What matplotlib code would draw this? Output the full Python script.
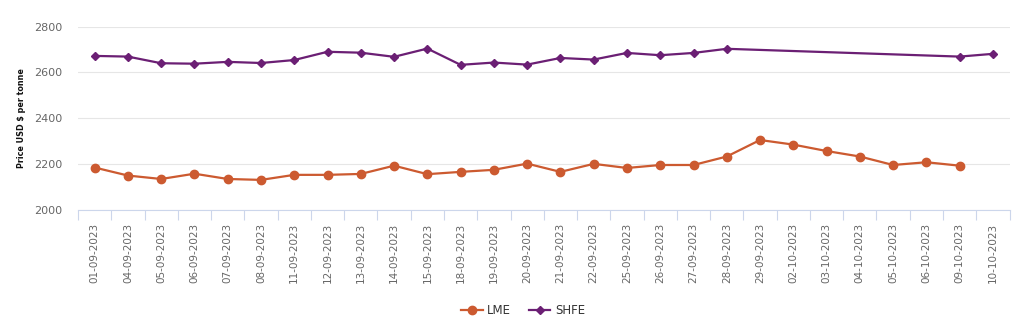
"""
LME vs SHFE price chart
"""

# Libs
import matplotlib.pyplot as plt
import numpy as np

dates = ["01-09-2023", "04-09-2023", "05-09-2023", "06-09-2023", "07-09-2023", "08-09-2023",
         "11-09-2023", "12-09-2023", "13-09-2023", "14-09-2023", "15-09-2023", "18-09-2023",
         "19-09-2023", "20-09-2023", "21-09-2023", "22-09-2023", "25-09-2023", "26-09-2023",
         "27-09-2023", "28-09-2023", "29-09-2023", "02-10-2023", "03-10-2023", "04-10-2023",
         "05-10-2023", "06-10-2023", "09-10-2023", "10-10-2023"]

lme = [2185, 2150, 2135, 2158, 2135, 2131, 2153, 2153, 2157, 2193, 2156, 2166,
       2175, 2202, 2166, 2201, 2183, 2196, 2196, 2233, 2305, 2285, 2257, 2233,
       2196, 2208, 2193, None]

shfe = [2672, 2669, 2640, 2638, 2646, 2641, 2654, 2690, 2686, 2668, 2704, 2633,
        2643, 2634, 2663, 2656, 2685, 2675, 2685, 2703, None, None, None, None,
        None, None, 2669, 2681]

LME_COLOR = "#cc5a30"
SHFE_COLOR = "#6b1f74"

fig = plt.figure(figsize=(10.26, 3.28), dpi=100)
ax = fig.add_axes([0.076, 0.36, 0.908, 0.559])

x = np.arange(len(dates))

# ------------------ LME (skip missing values)
lme_x = [i for i, v in zip(x, lme) if v is not None]
lme_y = [v for v in lme if v is not None]
ax.plot(lme_x, lme_y, color=LME_COLOR, linewidth=1.6, marker="o", markersize=6,
        label="LME", zorder=3)

# ------------------ SHFE (gaps are connected)
shfe_x = [i for i, v in zip(x, shfe) if v is not None]
shfe_y = [v for v in shfe if v is not None]
ax.plot(shfe_x, shfe_y, color=SHFE_COLOR, linewidth=1.6, marker="D", markersize=4.5,
        label="SHFE", zorder=3)

# --> Axes formatting
ax.set_xlim(-0.5, len(dates) - 0.5)
ax.set_ylim(2000, 2800)
ax.set_yticks([2000, 2200, 2400, 2600, 2800])
ax.grid(axis="y", color="#e6e6e6", linewidth=0.8, zorder=0)
ax.set_axisbelow(True)

ax.set_xticks(x)
ax.set_xticklabels(dates, rotation=90, fontsize=7.5, color="#666666", va="top", ha="center")
ax.set_xticks(np.arange(len(dates) + 1) - 0.5, minor=True)
ax.tick_params(axis="x", which="major", length=0, pad=9)
ax.tick_params(axis="x", which="minor", length=7, color="#ccd6eb", width=0.8)
ax.tick_params(axis="y", length=0, pad=11, labelsize=8, labelcolor="#666666")

for side in ["top", "right", "left"]:
    ax.spines[side].set_visible(False)
ax.spines["bottom"].set_color("#ccd6eb")
ax.spines["bottom"].set_linewidth(0.8)

ax.set_ylabel("Price USD $ per tonne", fontsize=5.8, fontweight="bold", color="#111111", labelpad=6)

fig.legend(loc="center", bbox_to_anchor=(0.51, 0.052), ncol=2, frameon=False,
           fontsize=8.5, handlelength=1.8, columnspacing=1.5, handletextpad=0.4,
           labelcolor="#333333")

plt.savefig("out.png", dpi=100)
